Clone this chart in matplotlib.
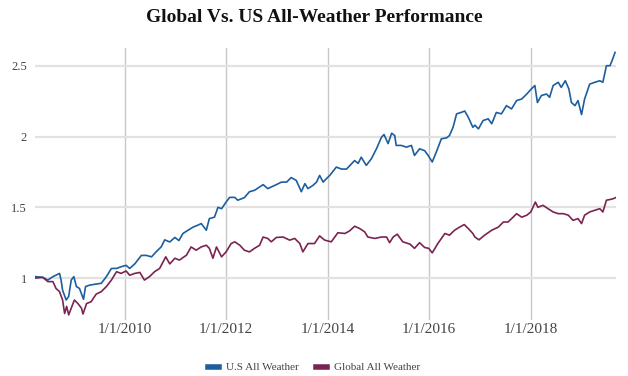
from datetime import datetime, timedelta
import matplotlib
matplotlib.use("Agg")
import matplotlib.pyplot as plt

# values (decimal year, growth of $1)
us_years = [2008.25, 2008.39, 2008.49, 2008.59, 2008.72, 2008.75, 2008.78, 2008.85, 2008.90, 2008.95,
            2009.00, 2009.05, 2009.11, 2009.17, 2009.19, 2009.23, 2009.31, 2009.44, 2009.54, 2009.64,
            2009.74, 2009.84, 2009.93, 2010.03, 2010.10, 2010.20, 2010.33, 2010.43, 2010.53, 2010.62,
            2010.72, 2010.79, 2010.89, 2010.99, 2011.07, 2011.15, 2011.25, 2011.35, 2011.44, 2011.51,
            2011.61, 2011.67, 2011.77, 2011.84, 2011.91, 2012.00, 2012.07, 2012.17, 2012.23, 2012.36,
            2012.46, 2012.56, 2012.66, 2012.73, 2012.82, 2012.96, 2013.09, 2013.19, 2013.28, 2013.38,
            2013.48, 2013.55, 2013.61, 2013.71, 2013.78, 2013.84, 2013.91, 2013.94, 2014.04, 2014.17,
            2014.27, 2014.37, 2014.47, 2014.53, 2014.60, 2014.66, 2014.76, 2014.86, 2014.96, 2015.06,
            2015.11, 2015.19, 2015.26, 2015.32, 2015.35, 2015.45, 2015.55, 2015.65, 2015.71, 2015.81,
            2015.91, 2015.98, 2016.06, 2016.14, 2016.24, 2016.34, 2016.40, 2016.47, 2016.54, 2016.63,
            2016.70, 2016.77, 2016.86, 2016.90, 2016.97, 2017.06, 2017.16, 2017.23, 2017.32, 2017.42,
            2017.52, 2017.62, 2017.72, 2017.82, 2017.92, 2018.01, 2018.08, 2018.13, 2018.21, 2018.31,
            2018.37, 2018.44, 2018.54, 2018.60, 2018.68, 2018.75, 2018.80, 2018.87, 2018.93, 2019.00,
            2019.06, 2019.16, 2019.26, 2019.36, 2019.42, 2019.49, 2019.56, 2019.60, 2019.66]
us_values = [1.01, 1.005, 0.986, 1.01, 1.033, 0.986, 0.915, 0.845, 0.87, 0.986,
             1.01, 0.94, 0.927, 0.87, 0.85, 0.94, 0.95, 0.958, 0.963, 1.01,
             1.068, 1.068, 1.08, 1.09, 1.068, 1.10, 1.16, 1.16, 1.15, 1.185,
             1.22, 1.27, 1.255, 1.287, 1.265, 1.315, 1.338, 1.36, 1.373, 1.385,
             1.338, 1.42, 1.43, 1.50, 1.49, 1.537, 1.57, 1.57, 1.55, 1.568,
             1.61, 1.62, 1.643, 1.66, 1.632, 1.655, 1.678, 1.678, 1.71, 1.69,
             1.61, 1.667, 1.632, 1.655, 1.678, 1.725, 1.678, 1.69, 1.725, 1.784,
             1.77, 1.77, 1.808, 1.83, 1.81, 1.854, 1.796, 1.843, 1.913, 1.995,
             2.014, 1.95, 2.023, 2.007, 1.937, 1.937, 1.925, 1.937, 1.866, 1.913,
             1.90, 1.866, 1.82, 1.89, 1.984, 1.99, 2.007, 2.065, 2.16, 2.17,
             2.18, 2.136, 2.065, 2.08, 2.054, 2.113, 2.125, 2.09, 2.17, 2.16,
             2.218, 2.195, 2.254, 2.265, 2.30, 2.336, 2.36, 2.24, 2.29, 2.30,
             2.277, 2.36, 2.383, 2.347, 2.394, 2.336, 2.24, 2.218, 2.254, 2.155,
             2.265, 2.37, 2.383, 2.394, 2.383, 2.50, 2.50, 2.535, 2.594]

gl_years = [2008.25, 2008.39, 2008.49, 2008.59, 2008.65, 2008.72, 2008.78, 2008.82, 2008.86, 2008.90,
            2008.95, 2009.01, 2009.08, 2009.15, 2009.18, 2009.25, 2009.34, 2009.44, 2009.54, 2009.64,
            2009.74, 2009.84, 2009.93, 2010.03, 2010.10, 2010.20, 2010.30, 2010.39, 2010.49, 2010.59,
            2010.69, 2010.81, 2010.89, 2010.99, 2011.08, 2011.22, 2011.31, 2011.41, 2011.51, 2011.61,
            2011.67, 2011.74, 2011.81, 2011.91, 2012.00, 2012.10, 2012.17, 2012.27, 2012.36, 2012.46,
            2012.56, 2012.66, 2012.73, 2012.82, 2012.89, 2012.99, 2013.12, 2013.25, 2013.35, 2013.45,
            2013.51, 2013.61, 2013.74, 2013.84, 2013.94, 2014.07, 2014.20, 2014.34, 2014.43, 2014.53,
            2014.63, 2014.73, 2014.79, 2014.93, 2015.06, 2015.16, 2015.22, 2015.29, 2015.37, 2015.48,
            2015.62, 2015.71, 2015.81, 2015.91, 2015.99, 2016.06, 2016.17, 2016.31, 2016.40, 2016.50,
            2016.60, 2016.69, 2016.77, 2016.86, 2016.90, 2016.98, 2017.09, 2017.23, 2017.36, 2017.46,
            2017.55, 2017.65, 2017.72, 2017.82, 2017.92, 2018.00, 2018.09, 2018.14, 2018.24, 2018.34,
            2018.44, 2018.54, 2018.64, 2018.74, 2018.83, 2018.93, 2019.00, 2019.06, 2019.16, 2019.26,
            2019.36, 2019.42, 2019.49, 2019.56, 2019.62, 2019.67]
gl_values = [1.0, 1.005, 0.975, 0.975, 0.927, 0.904, 0.845, 0.75, 0.80, 0.74,
             0.787, 0.845, 0.82, 0.787, 0.746, 0.82, 0.833, 0.887, 0.904, 0.94,
             0.986, 1.045, 1.033, 1.05, 1.02, 1.033, 1.04, 0.986, 1.01, 1.045,
             1.068, 1.15, 1.10, 1.14, 1.127, 1.162, 1.22, 1.197, 1.22, 1.232,
             1.21, 1.14, 1.22, 1.15, 1.185, 1.244, 1.256, 1.232, 1.197, 1.185,
             1.21, 1.232, 1.29, 1.28, 1.256, 1.287, 1.29, 1.268, 1.28, 1.244,
             1.185, 1.244, 1.244, 1.298, 1.268, 1.256, 1.32, 1.315, 1.333, 1.366,
             1.35, 1.326, 1.29, 1.28, 1.29, 1.29, 1.25, 1.29, 1.31, 1.256,
             1.24, 1.21, 1.25, 1.216, 1.21, 1.178, 1.244, 1.315, 1.303, 1.338,
             1.36, 1.378, 1.35, 1.315, 1.29, 1.27, 1.303, 1.338, 1.36, 1.396,
             1.396, 1.43, 1.455, 1.43, 1.444, 1.467, 1.537, 1.50, 1.514, 1.49,
             1.467, 1.455, 1.455, 1.444, 1.408, 1.42, 1.385, 1.444, 1.467, 1.479,
             1.49, 1.467, 1.55, 1.555, 1.56, 1.568]

tick_dates = ["2010-01-01", "2012-01-01", "2014-01-01", "2016-01-01", "2018-01-01"]
tick_labels = ["1/1/2010", "1/1/2012", "1/1/2014", "1/1/2016", "1/1/2018"]
y_ticks = [1, 1.5, 2, 2.5]
y_labels = ["1", "1.5", "2", "2.5"]


def to_date(y):
    year = int(y)
    return datetime(year, 1, 1) + timedelta(days=(y - year) * 365.25)


us_dates = [to_date(y) for y in us_years]
gl_dates = [to_date(y) for y in gl_years]

plt.rcParams['font.family'] = ['Liberation Serif', 'DejaVu Serif']

fig = plt.figure(figsize=(6.28, 3.76), dpi=100)
ax = fig.add_axes([0.056, 0.149, 0.925, 0.724])

ax.plot(us_dates, us_values, color='#1d5e9e', lw=1.2, label='U.S All Weather')
ax.plot(gl_dates, gl_values, color='#7a2452', lw=1.2, label='Global All Weather')

ax.set_xlim(to_date(2008.24), to_date(2019.68))
ax.set_ylim(0.704, 2.627)

ticks = [datetime.strptime(d, "%Y-%m-%d") for d in tick_dates]
ax.set_xticks(ticks)
ax.set_xticklabels(tick_labels, fontsize=11, color='#444444')
ax.set_yticks(y_ticks)
ax.set_yticklabels(y_labels, fontsize=9, color='#444444')
ax.tick_params(axis='x', length=0, pad=2)
ax.tick_params(axis='y', length=0, pad=6)

for t in ticks:
    ax.axvline(t, color='#c8c8c8', lw=1, zorder=0)
for y in y_ticks:
    ax.axhline(y, color='#e2e2e2', lw=1.6, zorder=0)

for s in ax.spines.values():
    s.set_visible(False)

fig.suptitle('Global Vs. US All-Weather Performance', x=0.5, y=0.975,
             fontsize=14, fontweight='bold', color='#111111')

leg = ax.legend(loc='upper center', bbox_to_anchor=(0.48, -0.12), ncol=2, frameon=False,
                fontsize=8, handlelength=1.0, handletextpad=0.6, columnspacing=1.6)
for h in leg.get_lines():
    h.set_linewidth(4)
for t in leg.get_texts():
    t.set_color('#444444')

fig.savefig('out.png', dpi=100)
